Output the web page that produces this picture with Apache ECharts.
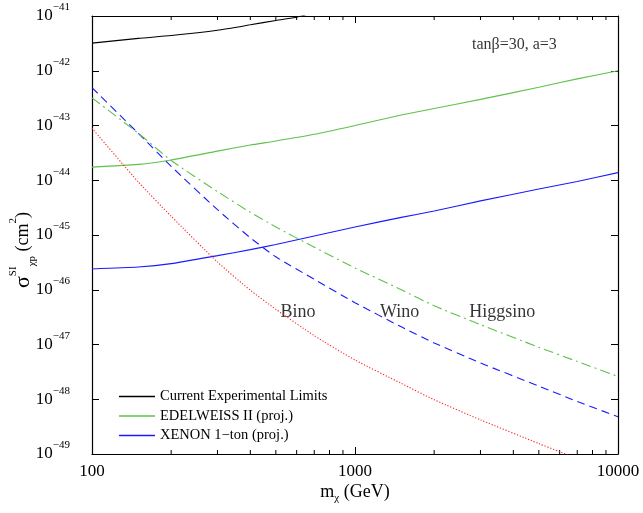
<!DOCTYPE html>
<html><head><meta charset="utf-8">
<script src="https://cdn.jsdelivr.net/npm/echarts@6/dist/echarts.min.js"></script>
<style>html,body{margin:0;padding:0;background:#fff}#c{width:643px;height:513px}</style>
</head><body><div id="c"></div>
<script>
// ---- data ----
const masses = [100,150,200,300,400,500,700,1000,1500,2000,3000,5000,7000,10000];
const winoSigma = [4.9e-43,7.2e-44,1.8e-44,2.9e-45,8.9e-46,4.0e-46,1.55e-46,5.8e-47,2.1e-47,1.07e-47,4.6e-48,1.74e-48,9.1e-49,4.8e-49];
const higgsinoSigma = [3.2e-43,7.2e-44,2.3e-44,6.2e-45,2.6e-45,1.4e-45,6.0e-46,2.5e-46,1.0e-46,5.1e-47,2.3e-47,8.9e-48,4.9e-48,2.6e-48];
const binoMasses = [100,150,200,300,400,500,700,1000,1500,2000,3000,5000,6000,7000];
const binoSigma = [8.9e-44,9.3e-45,2.2e-45,3.2e-46,9.8e-47,4.4e-47,1.45e-47,5.2e-48,1.95e-48,9.8e-49,4.2e-49,1.55e-49,1.1e-49,8.1e-50];
const edelweissSigma = [1.74e-44,1.95e-44,2.35e-44,3.4e-44,4.4e-44,5.2e-44,6.9e-44,1.0e-43,1.55e-43,2.05e-43,3.0e-43,5.0e-43,7.1e-43,1.0e-42];
const xenonSigma = [2.4e-46,2.6e-46,3.0e-46,4.2e-46,5.4e-46,6.7e-46,9.6e-46,1.4e-45,2.1e-45,2.75e-45,4.2e-45,6.9e-45,9.5e-45,1.38e-44];
const currentMasses = [100,150,200,300,400,500,600,650];
const currentSigma = [3.2e-42,3.9e-42,4.4e-42,5.5e-42,6.9e-42,8.3e-42,9.5e-42,1.05e-41];
const legendNames = ['Current Experimental Limits','EDELWEISS II (proj.)','XENON 1\u2212ton (proj.)'];
const annotations = [
  {name:'Bino', value:[607,3.9e-47]},
  {name:'Wino', value:[1478,3.9e-47]},
  {name:'Higgsino', value:[3630,3.9e-47]},
  {name:'tan\u03b2=30, a=3', value:[4036,2.95e-42]}
];
const minorX = [200,300,400,500,600,700,800,900,2000,3000,4000,5000,6000,7000,8000,9000];
const xMin = 100, xMax = 10000;
const yMinExp = -49, yMaxExp = -41; // decades of sigma shown on the y axis

const FONT = 'Liberation Serif';
// y axis is drawn in decades (log10 of sigma), labelled as powers of ten
const zip = (xs, ys) => xs.map((x,i)=>[x, Math.log10(ys[i])]);
const green = '#5ec24a', blue = '#1a1aff', red = '#ff2020';

const chart = echarts.init(document.getElementById('c'), null, {renderer:'canvas'});
const expLabel = e => {
  e = Math.round(e);
  return '{b|10}{s|' + (e < 0 ? '\u2212' + (-e) : e) + '}';
};
const yRich = {
  b:{fontFamily:FONT,fontSize:17,color:'#000',lineHeight:28,verticalAlign:'middle'},
  s:{fontFamily:FONT,fontSize:11,color:'#000',verticalAlign:'top',lineHeight:28}
};
const axisCommon = {
  axisLine:{show:true,lineStyle:{color:'#000',width:1.2}},
  axisTick:{show:true,inside:true,length:7,lineStyle:{color:'#000'}},
  splitLine:{show:false},
  nameMoveOverlap:false
};
const lineCommon = {type:'line',symbol:'none',clip:true,smooth:0.2};
const option = {
  animation:false,
  backgroundColor:'#fff',
  grid:{left:92,right:25,top:16,bottom:59,containLabel:false,outerBoundsMode:'none'},
  xAxis:[
    Object.assign({type:'log',logBase:10,min:xMin,max:xMax,splitNumber:2,position:'bottom',
     axisLabel:{fontFamily:FONT,fontSize:17,color:'#000',margin:9,formatter:v=>String(Math.round(v))},
     name:'{m|m}{sub|\u03c7}{t| (GeV)}',nameLocation:'middle',nameGap:26,
     nameTextStyle:{rich:{
       m:{fontFamily:FONT,fontSize:18,color:'#000',lineHeight:24,verticalAlign:'middle'},
       sub:{fontFamily:FONT,fontSize:11,color:'#000',verticalAlign:'bottom',lineHeight:24},
       t:{fontFamily:FONT,fontSize:18,color:'#000',lineHeight:24,verticalAlign:'middle'}}}}, axisCommon),
    Object.assign({type:'log',logBase:10,min:xMin,max:xMax,splitNumber:2,position:'top',
     axisLabel:{show:false}}, axisCommon)
  ],
  yAxis:[
    Object.assign({type:'value',min:yMinExp,max:yMaxExp,interval:1,position:'left',
     axisLabel:{margin:22,formatter:expLabel,rich:yRich},
     name:'{g|\u03c3}{sp|SI}{sb|\u03c7p}{t| (cm}{sp|2}{t|)}',nameLocation:'middle',nameGap:54,nameRotate:90,
     nameTextStyle:{padding:[0,30,0,0],rich:{
       g:{fontFamily:FONT,fontSize:22,color:'#000',lineHeight:30,verticalAlign:'middle'},
       sp:{fontFamily:FONT,fontSize:11,color:'#000',lineHeight:30,verticalAlign:'top'},
       sb:{fontFamily:FONT,fontSize:11,color:'#000',lineHeight:30,verticalAlign:'bottom'},
       t:{fontFamily:FONT,fontSize:18,color:'#000',lineHeight:30,verticalAlign:'middle'}}}}, axisCommon),
    Object.assign({type:'value',min:yMinExp,max:yMaxExp,interval:1,position:'right',
     axisLabel:{show:false}}, axisCommon)
  ],
  legend:{
    data:legendNames,orient:'vertical',left:114,top:384,icon:'rect',
    itemWidth:36,itemHeight:1.3,itemGap:4.5,
    textStyle:{fontFamily:FONT,fontSize:14.5,color:'#000'}
  },
  series:[
    Object.assign({name:legendNames[0],data:zip(currentMasses,currentSigma),
     lineStyle:{color:'#000',width:1.1},itemStyle:{color:'#000'}}, lineCommon),
    Object.assign({name:legendNames[1],data:zip(masses,edelweissSigma),
     lineStyle:{color:green,width:1.1},itemStyle:{color:green}}, lineCommon),
    Object.assign({name:legendNames[2],data:zip(masses,xenonSigma),
     lineStyle:{color:blue,width:1.1},itemStyle:{color:blue}}, lineCommon),
    Object.assign({name:'Wino',data:zip(masses,winoSigma),
     lineStyle:{color:blue,width:1.1,type:[8,5]}}, lineCommon),
    Object.assign({name:'Higgsino',data:zip(masses,higgsinoSigma),
     lineStyle:{color:green,width:1.1,type:[10,4,2,4]}}, lineCommon),
    Object.assign({name:'Bino',data:zip(binoMasses,binoSigma),
     lineStyle:{color:red,width:1.1,type:[1.2,1.8]}}, lineCommon),
    {name:'labels',type:'scatter',symbolSize:1,
     data:annotations.map(a => ({name:a.name, value:[a.value[0], Math.log10(a.value[1])],
       label: a.name.startsWith('tan') ? {fontSize:16} : undefined})),
     itemStyle:{color:'rgba(0,0,0,0)'},silent:true,
     label:{show:true,position:'inside',formatter:p=>p.name,fontFamily:FONT,fontSize:18,color:'#000'},
     labelLayout:{hideOverlap:false}},
    {name:'minorTicks',type:'custom',data:minorX.map(v=>[v,-45]),silent:true,clip:false,
     renderItem:(params,api)=>{
       const v = api.value(0);
       const b = api.coord([v,yMinExp]);
       const t = api.coord([v,yMaxExp]);
       return {type:'group',children:[
         {type:'line',shape:{x1:b[0],y1:b[1],x2:b[0],y2:b[1]-4},style:{stroke:'#000',lineWidth:1}},
         {type:'line',shape:{x1:t[0],y1:t[1],x2:t[0],y2:t[1]+4},style:{stroke:'#000',lineWidth:1}}
       ]};
     }}
  ]
};
chart.setOption(option);
</script>
</body></html>
